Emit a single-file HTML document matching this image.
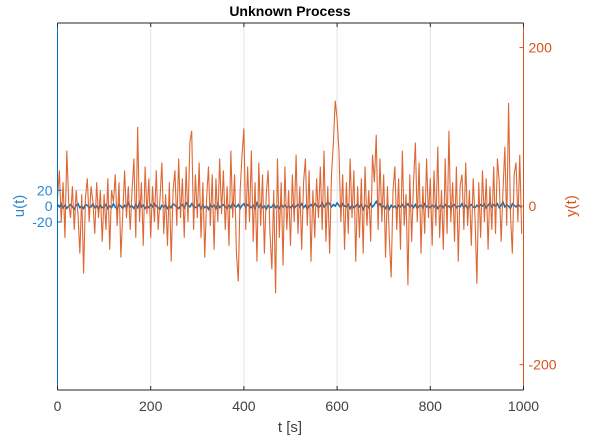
<!DOCTYPE html>
<html><head><meta charset="utf-8"><style>
html,body{margin:0;padding:0;background:#fff;}
svg{display:block;font-family:"Liberation Sans",Arial,sans-serif;}
</style></head><body>
<svg id="chart" width="595" height="443" viewBox="0 0 595 443">
<text x="290" y="16" text-anchor="middle" font-size="14" font-weight="bold" fill="#000">Unknown Process</text>
<text x="290" y="432" text-anchor="middle" font-size="15" fill="#404040">t [s]</text>
<text transform="translate(24,206) rotate(-90)" text-anchor="middle" font-size="15" fill="#2a86d0">u(t)</text>
<text transform="translate(576,206) rotate(-90)" text-anchor="middle" font-size="15" fill="#D95319">y(t)</text>
</svg>
<script>
const tValuesStep = 4;
const yValues = [10,45,-20,30,-40,70,5,-15,25,-30,20,-10,-60,15,-85,10,35,-20,25,5,-35,30,-15,20,-45,
15,-30,35,-55,20,5,40,-25,30,-65,-10,45,-15,25,-30,20,60,-40,100,-20,30,-50,50,-10,35,
-40,25,-20,45,-30,10,55,-35,15,-50,30,-70,20,45,-25,60,-15,35,-40,50,-20,80,95,-30,40,
-15,55,-40,30,-65,10,50,-25,40,-55,35,-20,60,-10,45,-30,25,-50,70,-15,40,-60,-95,20,65,
98,-30,50,-20,70,-45,30,-70,55,-25,40,-60,15,45,-35,-80,20,-110,60,-40,30,-75,50,-30,20,
-50,40,-20,65,-35,25,-55,30,60,-25,45,-70,20,-40,35,-15,50,-30,70,-45,25,-60,40,80,133,
110,70,-20,40,-55,30,-35,60,-15,45,-70,25,-40,35,-60,50,-25,20,-45,65,30,90,-30,60,-20,
40,-65,25,-40,-90,20,50,-30,35,-55,70,-25,15,-100,40,-45,30,80,-20,55,-60,25,-35,60,-15,
35,-50,45,-25,75,-40,20,-55,60,-35,95,-20,30,-45,50,-70,25,40,-30,55,-25,20,-50,35,-15,
-98,30,-40,45,-20,35,-55,25,-30,50,-35,60,30,-45,20,75,-25,130,-10,-60,40,55,-20,65,-35];
const uValues = [2,-1,3,-2,1,-3,0,2,-1,-4,1,3,-2,0,-3,2,1,-2,-1,3,-2,0,-4,1,-2,
-1,2,-3,0,-2,3,-1,-4,2,0,-3,1,-2,4,-1,0,-3,2,-2,5,-1,1,-3,0,-2,
2,-1,3,0,-2,-4,1,-1,2,-3,0,-2,3,1,-1,-3,0,2,-2,4,1,-1,3,0,-2,
-1,2,-3,1,-2,0,-4,2,-1,1,-3,3,-2,0,2,-1,-3,1,-2,4,0,-1,2,-3,1,
3,-1,2,0,-2,1,-3,4,-1,2,-2,0,-4,1,-2,-1,3,-2,0,-3,2,-1,1,-2,0,
-2,1,-3,0,2,-1,3,-2,1,-4,0,2,-1,3,1,-2,0,4,-1,2,5,3,-1,2,0,
4,1,-2,3,0,-1,2,-3,1,-2,0,3,-1,2,-4,1,0,-2,3,-1,2,6,1,3,-2,
0,-3,2,-4,1,-2,0,-3,1,-1,2,-2,0,3,-1,1,-2,2,-3,0,1,-2,3,-1,0,
-2,1,-1,2,-3,0,1,-2,2,-1,0,-3,1,2,-2,0,-1,3,-2,1,-3,0,2,-1,-2,
1,-1,2,0,3,-2,1,4,-1,2,0,3,-2,1,5,-1,2,0,-3,3,1,-1,2,0,-2];
const xTicks = [0,200,400,600,800,1000];
const yRightTicks = [-200,0,200];
const yLeftTicks = [-20,0,20];

const NS='http://www.w3.org/2000/svg';
const chartSvg=document.getElementById('chart');
const PL=57.5,PR=523.5,PT=23,PB=390;
const YMIN=-232,YMAX=231;
const xs=t=>PL+(t/1000)*(PR-PL);
const ys=v=>PB-(v-YMIN)/(YMAX-YMIN)*(PB-PT);
function mk(tag,attrs){const e=document.createElementNS(NS,tag);for(const k in attrs)e.setAttribute(k,attrs[k]);chartSvg.appendChild(e);return e;}

xTicks.slice(1,-1).forEach(t=>{
  const g=mk('line',{x1:xs(t),x2:xs(t),y1:PT,y2:PB,stroke:'#e3e3e3','stroke-width':1});
  
  
});
yLeftTicks.forEach(v=>{
  const g=mk('line',{x1:PL,x2:PR,y1:ys(v),y2:ys(v),stroke:'#d6e8f5','stroke-width':1});
  
  
});

let du='';uValues.forEach((v,i)=>{du+=(i?'L':'M')+xs(i*tValuesStep).toFixed(2)+' '+ys(v).toFixed(2);});
const pu=mk('path',{d:du,fill:'none',stroke:'#0072BD','stroke-width':1.5});


let dy='';yValues.forEach((v,i)=>{dy+=(i?'L':'M')+xs(i*tValuesStep).toFixed(2)+' '+ys(v).toFixed(2);});
const py=mk('path',{d:dy,fill:'none',stroke:'#D95319','stroke-width':1.1,'stroke-opacity':0.88});



const topBorder=mk('line',{x1:PL,x2:PR,y1:PT,y2:PT,stroke:'#262626','stroke-width':1});


const xAxisLine=mk('line',{x1:PL,x2:PR,y1:PB,y2:PB,stroke:'#262626','stroke-width':1});


const leftAxis=mk('line',{x1:PL,x2:PL,y1:PT,y2:PB,stroke:'#0072BD','stroke-width':1});


const rightAxis=mk('line',{x1:PR,x2:PR,y1:PT,y2:PB,stroke:'#D95319','stroke-width':1});



xTicks.forEach(t=>{
  const tk=mk('line',{x1:xs(t),x2:xs(t),y1:PB,y2:PB-4,stroke:'#262626'});
  
  
  const tk2=mk('line',{x1:xs(t),x2:xs(t),y1:PT,y2:PT+4,stroke:'#262626'});
  
  
  const lb=mk('text',{x:xs(t),y:PB+21,'text-anchor':'middle','font-size':14,fill:'#404040'});
  lb.textContent=t;
  
  
});
yRightTicks.forEach(v=>{
  const tk=mk('line',{x1:PR,x2:PR-4,y1:ys(v),y2:ys(v),stroke:'#D95319'});
  
  
  const lb=mk('text',{x:PR+5,y:ys(v)+5,'font-size':14,fill:'#D95319'});
  lb.textContent=v;
  
  
});
yLeftTicks.forEach(v=>{
  const tk=mk('line',{x1:PL,x2:PL+4,y1:ys(v),y2:ys(v),stroke:'#0072BD'});
  
  
  const lb=mk('text',{x:PL-5,y:ys(v)+5,'text-anchor':'end','font-size':14,fill:'#2a86d0'});
  lb.textContent=v;
  
  
});
</script>
</body></html>
